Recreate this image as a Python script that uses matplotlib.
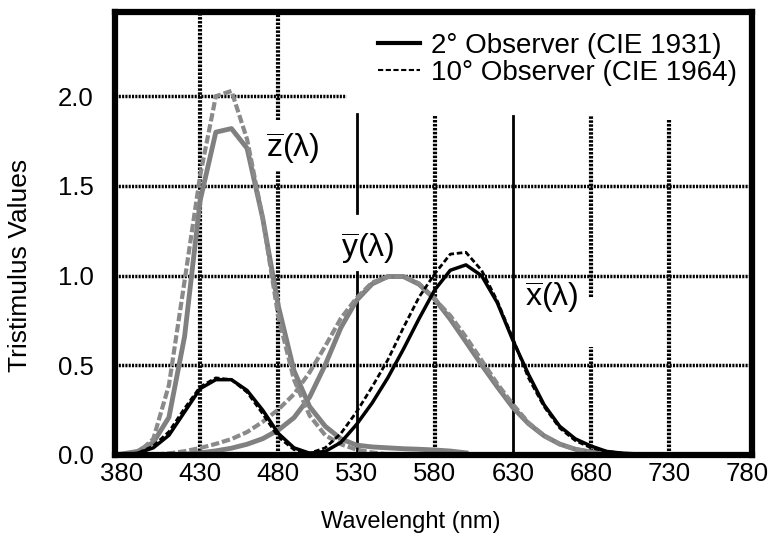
import matplotlib.pyplot as plt
from matplotlib.lines import Line2D

plt.rcParams['font.family'] = ['Liberation Sans', 'DejaVu Sans']
plt.rcParams['mathtext.fontset'] = 'custom'
plt.rcParams['mathtext.rm'] = 'Liberation Sans'

# wavelengths (nm), 10 nm steps
wl = [380, 390, 400, 410, 420, 430, 440, 450, 460, 470,
      480, 490, 500, 510, 520, 530, 540, 550, 560, 570,
      580, 590, 600, 610, 620, 630, 640, 650, 660, 670,
      680, 690, 700, 710, 720, 730, 740, 750, 760, 770, 780]

# 2 deg observer (CIE 1931)
x2 = [0.00, 0.01, 0.04, 0.11, 0.24, 0.37, 0.42, 0.42, 0.36, 0.25,
      0.12, 0.04, 0.01, 0.02, 0.07, 0.17, 0.29, 0.43, 0.59, 0.76,
      0.92, 1.03, 1.06, 1.00, 0.85, 0.64, 0.45, 0.28, 0.16, 0.09,
      0.05, 0.02, 0.01, 0.006, 0.003, 0.001, 0.0, 0.0, 0.0, 0.0, 0.0]
y2 = [0.00, 0.00, 0.00, 0.001, 0.004, 0.012, 0.023, 0.038, 0.06, 0.091,
      0.139, 0.208, 0.323, 0.503, 0.71, 0.862, 0.954, 0.995, 0.995, 0.952,
      0.87, 0.757, 0.631, 0.503, 0.381, 0.265, 0.175, 0.107, 0.061, 0.032,
      0.017, 0.008, 0.004, 0.002, 0.001, 0.0005, 0.0, 0.0, 0.0, 0.0, 0.0]
wl_z = wl[:23]
z2 = [0.006, 0.02, 0.07, 0.21, 0.66, 1.42, 1.80, 1.82, 1.71, 1.32,
      0.83, 0.47, 0.27, 0.16, 0.09, 0.055, 0.045, 0.04, 0.035, 0.032,
      0.028, 0.022, 0.012]

# 10 deg observer (CIE 1964)
x10 = [0.00, 0.01, 0.05, 0.13, 0.26, 0.38, 0.43, 0.42, 0.35, 0.23,
       0.10, 0.03, 0.01, 0.04, 0.12, 0.24, 0.38, 0.53, 0.71, 0.88,
       1.01, 1.12, 1.13, 1.03, 0.86, 0.65, 0.43, 0.27, 0.15, 0.08,
       0.04, 0.02, 0.01, 0.005, 0.002, 0.001, 0.0, 0.0, 0.0, 0.0, 0.0]
y10 = [0.00, 0.00, 0.002, 0.009, 0.021, 0.039, 0.062, 0.089, 0.128, 0.185,
       0.254, 0.339, 0.461, 0.607, 0.762, 0.875, 0.962, 0.992, 0.997, 0.956,
       0.869, 0.777, 0.658, 0.528, 0.398, 0.283, 0.18, 0.108, 0.06, 0.032,
       0.016, 0.008, 0.004, 0.002, 0.001, 0.0004, 0.0, 0.0, 0.0, 0.0, 0.0]
z10 = [0.001, 0.01, 0.09, 0.39, 0.97, 1.56, 2.00, 2.03, 1.76, 1.32,
       0.77, 0.42, 0.22, 0.11, 0.06, 0.03, 0.014, 0.004, 0.0, 0.0,
       0.0, 0.0, 0.0]

x_ticks = [380, 430, 480, 530, 580, 630, 680, 730, 780]
y_ticks = [0.0, 0.5, 1.0, 1.5, 2.0]

fig = plt.figure(figsize=(7.74, 5.35), dpi=100)
ax = fig.add_axes([115 / 774, 80 / 535, 637 / 774, 443 / 535])
ax.set_xlim(375.5, 783)
ax.set_ylim(0, 2.47)

# grid lines, drawn one by one (some are broken around the labels)
dotted = dict(color='black', lw=3, ls=(0, (0.6, 0.35)), zorder=1)
solid = dict(color='black', lw=2, zorder=1)
ax.plot([430, 430], [0, 2.47], **dotted)
ax.plot([480, 480], [0, 1.59], **dotted)
ax.plot([480, 480], [1.87, 2.47], **dotted)
ax.plot([530, 530], [0, 1.02], **solid)
ax.plot([530, 530], [1.35, 1.90], **solid)
ax.plot([580, 580], [0, 1.89], **dotted)
ax.plot([630, 630], [0, 1.89], **solid)
ax.plot([680, 680], [0, 0.60], **dotted)
ax.plot([680, 680], [0.88, 1.89], **dotted)
ax.plot([730, 730], [0, 1.87], **dotted)
hdot = dict(color='black', lw=2.5, ls=(0, (0.6, 0.35)), zorder=1)
for yv in [0.5, 1.0, 1.5]:
    ax.plot([375.5, 783], [yv, yv], **hdot)
ax.plot([375.5, 523], [2.0, 2.0], **hdot)

gray = '#808080'
ax.plot(wl, y2, color=gray, lw=3.5, zorder=2)
ax.plot(wl, y10, color='#8a8a8a', lw=3, ls=(0, (2, 0.7)), zorder=2)
ax.plot(wl_z, z2, color=gray, lw=3.5, zorder=2)
ax.plot(wl_z, z10, color='#8a8a8a', lw=3, ls=(0, (2, 0.7)), zorder=2)
ax.plot(wl, x2, color='black', lw=2.5, zorder=3)
ax.plot(wl, x10, color='black', lw=2, ls=(0, (2, 1)), zorder=3)

lab = dict(fontsize=23, ha='center', va='center')
ax.text(489, 1.71, r'$\overline{\mathrm{z}}$(λ)', **lab)
ax.text(537, 1.15, r'$\overline{\mathrm{y}}$(λ)', **lab)
ax.text(655, 0.88, r'$\overline{\mathrm{x}}$(λ)', **lab)

handles = [Line2D([], [], color='black', lw=3),
           Line2D([], [], color='black', lw=1.5, ls=(0, (2.5, 1.2)))]
ax.legend(handles, ['2° Observer (CIE 1931)', '10° Observer (CIE 1964)'],
          loc='upper right', bbox_to_anchor=(0.985, 0.965), frameon=False,
          fontsize=20, handlelength=1.5, handletextpad=0.4,
          labelspacing=0.02, borderaxespad=0, borderpad=0.2)

ax.set_xticks(x_ticks)
ax.set_yticks(y_ticks)
ax.set_yticklabels([f'{v:.1f}' for v in y_ticks])
ax.tick_params(length=0, labelsize=18.5)
ax.tick_params(axis='x', pad=5)
ax.tick_params(axis='y', pad=15.5)
for s in ax.spines.values():
    s.set_linewidth(4.5)
    s.set_zorder(5)

ax.set_xlabel('Wavelenght (nm)', fontsize=17)
ax.set_ylabel('Tristimulus Values', fontsize=19)
ax.xaxis.set_label_coords(0.465, -0.127)
ax.yaxis.set_label_coords(-0.13, 0.427)

fig.savefig('out.png', dpi=100)
